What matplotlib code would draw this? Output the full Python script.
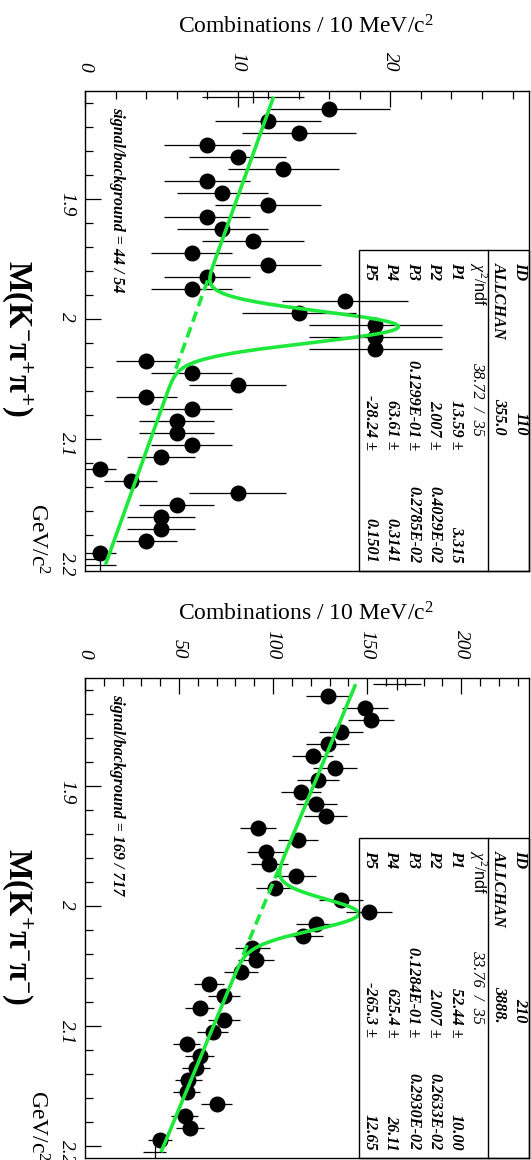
import numpy as np
import matplotlib
matplotlib.use('Agg')
import matplotlib.pyplot as plt
from matplotlib.ticker import MultipleLocator
from matplotlib.patches import Rectangle
from matplotlib.lines import Line2D

W, H = 531, 1160

plt.rcParams['font.family'] = ['Liberation Serif', 'DejaVu Serif']
plt.rcParams['mathtext.fontset'] = 'custom'
plt.rcParams['mathtext.rm'] = 'Liberation Serif'
plt.rcParams['mathtext.it'] = 'Liberation Serif:italic'
plt.rcParams['mathtext.bf'] = 'Liberation Serif:bold'
plt.rcParams['mathtext.sf'] = 'Liberation Sans'

# 40 bins of 10 MeV/c^2 between 1.81 and 2.21 GeV/c^2 (bin centres)
mass = np.arange(40) * 0.01 + 1.815

# entries per bin
counts_kmpp = [11, 16, 12, 14, 8, 10, 13, 8, 9, 12, 8, 9, 11, 7, 12, 8, 7, 17, 14, 19,
               19, 19, 4, 7, 10, 4, 7, 6, 6, 7, 5, 1, 3, 10, 6, 5, 5, 4, 1, 1]
counts_kpmm = [166, 129, 149, 152, 136, 129, 121, 133, 124, 115, 123, 128, 92, 113, 96, 98,
               112, 101, 136, 151, 123, 116, 89, 91, 83, 66, 74, 61, 74, 68, 54, 61, 59,
               55, 54, 70, 53, 56, 40, 37]

# fit parameters: gaussian (P1, P2, P3) + linear background (P4, P5)
pars_kmpp = [13.59, 2.007, 0.1299e-01, 63.61, -28.24]
pars_kpmm = [52.44, 2.007, 0.1284e-01, 625.4, -265.3]

# fit box text
table_kmpp = [('ID', '110', ''), ('ALLCHAN', '355.0', ''), ('chi', '38.72  /  35', ''),
              ('P1', '13.59 \u00b1', '3.315'), ('P2', '2.007 \u00b1', '0.4029E-02'),
              ('P3', '0.1299E-01 \u00b1', '0.2785E-02'), ('P4', '63.61 \u00b1', '0.3141'),
              ('P5', '-28.24 \u00b1', '0.1501')]
table_kpmm = [('ID', '210', ''), ('ALLCHAN', '3888.', ''), ('chi', '33.76  /  35', ''),
              ('P1', '52.44 \u00b1', '10.00'), ('P2', '2.007 \u00b1', '0.2633E-02'),
              ('P3', '0.1284E-01 \u00b1', '0.2930E-02'), ('P4', '625.4 \u00b1', '26.11'),
              ('P5', '-265.3 \u00b1', '12.65')]

panels = [
    dict(counts=counts_kmpp, pars=pars_kmpp, table=table_kmpp, xmax=29.1,
         xmajor=[0, 10, 20], xminor=2, sb='signal/background = 44 / 54',
         label=r'$\mathbf{M(K^{-}\pi^{+}\pi^{+})}$'),
    dict(counts=counts_kpmm, pars=pars_kpmm, table=table_kpmm, xmax=236.2,
         xmajor=[0, 50, 100, 150, 200], xminor=10, sb='signal/background = 169 / 717',
         label=r'$\mathbf{M(K^{+}\pi^{-}\pi^{-})}$'),
]

GREEN = '#1ee83c'

fig = plt.figure(figsize=(W / 100, H / 100), dpi=100)


def fx(x):
    return x / W


def fy(y):
    return 1 - y / H


def ftext(x, y, s, **kw):
    kw.setdefault('rotation_mode', 'anchor')
    fig.text(fx(x), fy(y), s, **kw)


for i, p in enumerate(panels):
    off = i * 587.5
    ax = fig.add_axes([fx(85), fy(570.7 + off), 444.3 / W, 480 / H])
    counts = np.array(p['counts'], dtype=float)
    P1, P2, P3, P4, P5 = p['pars']

    # points (first and last bin are drawn without a marker, as in PAW)
    ax.errorbar(counts, mass, xerr=np.sqrt(counts), yerr=0.005, fmt='none',
                ecolor='black', elinewidth=0.9, capsize=0)
    ax.plot(counts[1:-1], mass[1:-1], 'o', color='black', ms=10.5)

    # fit
    m = np.linspace(mass[0], mass[-1], 400)
    ax.plot(P1 * np.exp(-0.5 * ((m - P2) / P3) ** 2) + P4 + P5 * m, m,
            color=GREEN, lw=2.6, solid_capstyle='butt')
    mb = np.linspace(P2 - 3 * P3, P2 + 3 * P3, 50)
    ax.plot(P4 + P5 * mb, mb, color=GREEN, lw=2.6, dashes=(3, 1.6))

    ax.set_xlim(0, p['xmax'])
    ax.set_ylim(2.21, 1.81)
    for s in ax.spines.values():
        s.set_linewidth(1.0)

    ax.xaxis.tick_top()
    ax.set_xticks(p['xmajor'], [str(v) for v in p['xmajor']],
                  fontstyle='italic', fontsize=14)
    ax.xaxis.set_minor_locator(MultipleLocator(p['xminor']))
    ax.set_yticks([1.9, 2.0, 2.1, 2.2], ['1.9', '2', '2.1', '2.2'],
                  fontstyle='italic', fontsize=14)
    ax.yaxis.set_minor_locator(MultipleLocator(0.02))
    ax.tick_params(which='both', direction='in', top=True, bottom=False,
                   left=True, right=False, width=0.9)
    ax.tick_params(which='major', length=11.5)
    ax.tick_params(which='minor', length=6)
    ax.tick_params(axis='x', labelrotation=-90, pad=14)
    ax.tick_params(axis='y', labelrotation=-90, pad=7)

    # axis titles
    ftext(178, 33 + off, 'Combinations / 10 MeV/c$^2$', fontsize=17,
          ha='left', va='baseline')
    ftext(30, 503 + off, 'GeV/c$^2$', fontsize=17, rotation=-90,
          ha='left', va='baseline')
    ftext(9, 260 + off, p['label'], fontsize=23.5, rotation=-90,
          ha='left', va='baseline')
    ftext(117, 107 + off, p['sb'], fontsize=11.5, fontstyle='italic',
          fontweight='bold', rotation=-90, ha='left', va='center')

    # fit box
    fig.add_artist(Rectangle((fx(358.5), fy(570.7 + off)), (529.3 - 358.5) / W,
                             (570.7 - 250) / H, fill=False, lw=1.0, ec='black',
                             transform=fig.transFigure))
    fig.add_artist(Line2D([fx(488), fx(488)], [fy(250 + off), fy(570.7 + off)],
                          lw=1.0, color='black', transform=fig.transFigure))
    for r, (name, val, err) in enumerate(p['table']):
        xc = 520.5 - 21.5 * r
        tk = dict(fontsize=11.7, rotation=-90, va='center')
        if name == 'chi':
            ftext(xc, 262 + off, r'$\chi^{2}$/$\mathsf{ndf}$', ha='left', **tk)
            ftext(xc, 436 + off, val, ha='right', fontstyle='italic', **tk)
            continue
        ftext(xc, 262 + off, name, ha='left', fontstyle='italic',
              fontweight='bold', **tk)
        ftext(xc, 435 + off if not err else 450 + off, val, ha='right',
              fontstyle='italic', fontweight='bold', **tk)
        if err:
            ftext(xc, 563 + off, err, ha='right', fontstyle='italic',
                  fontweight='bold', **tk)

fig.savefig('out.png', dpi=100)
